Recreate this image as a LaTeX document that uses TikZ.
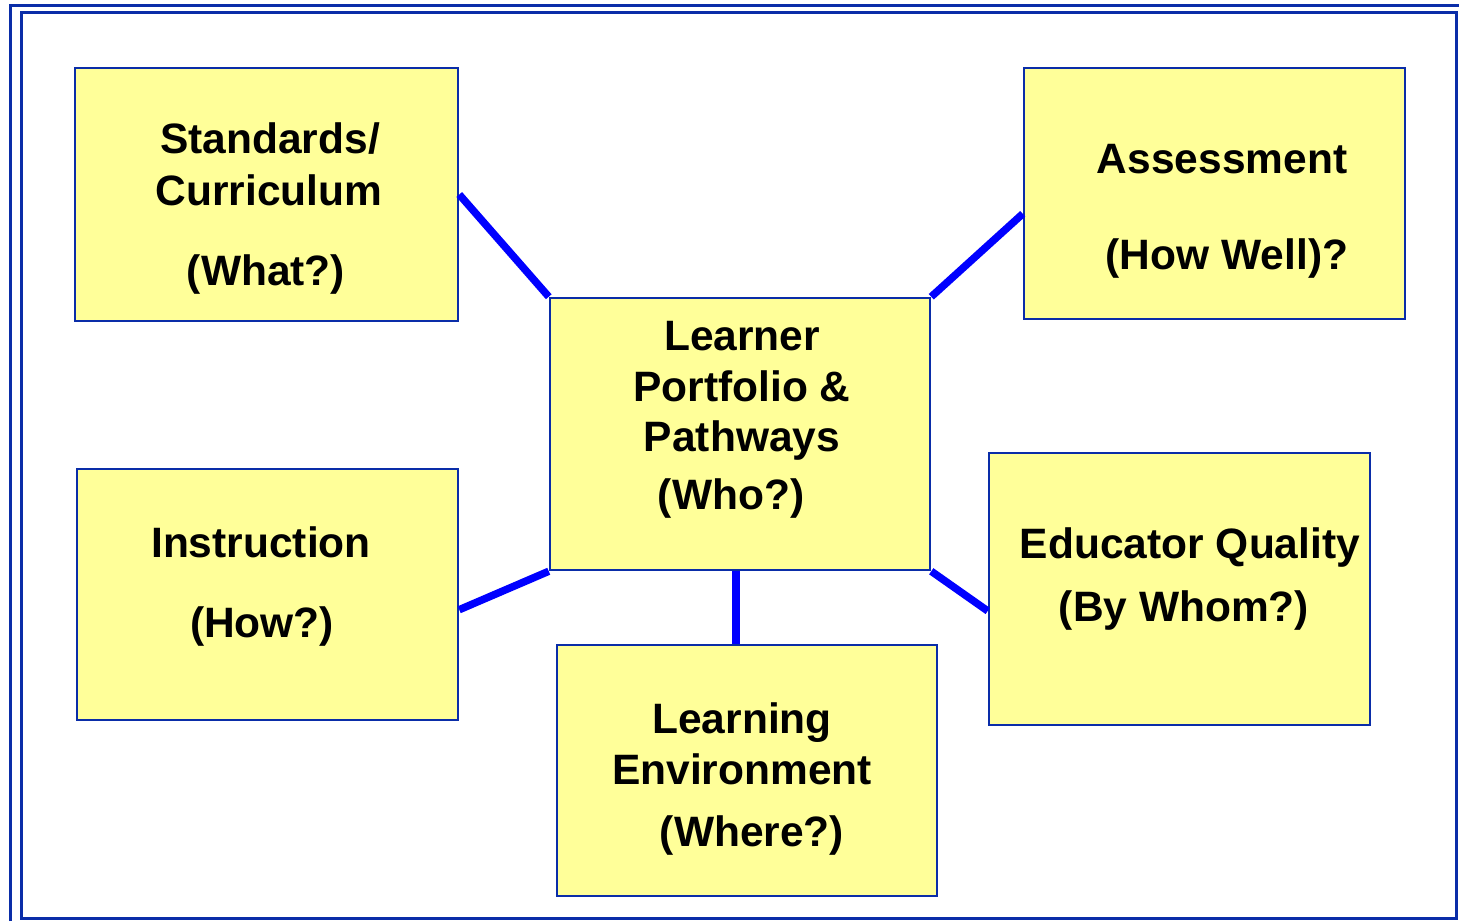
\documentclass[tikz,border=0pt]{standalone}
\usepackage{fontspec}
\setmainfont{Liberation Sans}
\usetikzlibrary{calc}
\definecolor{boxfill}{HTML}{FFFF99}
\definecolor{boxline}{HTML}{0A2DA8}
\definecolor{conn}{HTML}{0000FF}
\begin{document}
\begin{tikzpicture}[x=1pt,y=-1pt,
  box/.style={draw=boxline,line width=2.5pt,fill=boxfill,minimum width=#1,inner sep=0pt,rectangle},
  lbl/.style={anchor=base,font=\fontsize{42.5}{50}\selectfont\bfseries,inner sep=0pt,text=black},
  link/.style={draw=conn,line width=7.5pt}]
\useasboundingbox (0,0) rectangle (1459,921);
\fill[white] (0,0) rectangle (1459,921);
% frames
\draw[boxline,line width=3pt] (10.5,921) -- (10.5,5) -- (1459,5);
\draw[boxline,line width=3pt] (21.5,12) rectangle (1456.5,918);
% boxes
\node[box=383pt,minimum height=253pt] (std) at (266.5,194.5) {};
\node[box=381pt,minimum height=251pt] (ass) at (1214.5,193.5) {};
\node[box=380pt,minimum height=272pt] (ctr) at (740,434) {};
\node[box=381pt,minimum height=251pt] (ins) at (267.5,594.5) {};
\node[box=381pt,minimum height=272pt] (edu) at (1179.5,589) {};
\node[box=380pt,minimum height=251pt] (env) at (747,770.5) {};
% connectors
\draw[link] (std.east) -- (ctr.north west);
\draw[link] (ctr.north east) -- ($(ass.north west)!0.58!(ass.south west)$);
\draw[link] (ctr.south west) -- ($(ins.north east)!0.56!(ins.south east)$);
\coordinate (cb) at ($(ctr.south west)!0.49!(ctr.south east)$);
\draw[link] (cb) -- (cb |- env.north);
\draw[link] (ctr.south east) -- ($(edu.north west)!0.58!(edu.south west)$);
% labels
\node[lbl] (t1) at (270,153) {Standards/};
\node[lbl] (t2) at (269,205) {Curriculum};
\node[lbl] (t3) at (266,285) {(What?)};
\node[lbl] (t4) at (1222,173) {Assessment};
\node[lbl] (t5) at (1227,269) {(How Well)?};
\node[lbl] (t6) at (742,350) {Learner};
\node[lbl] (t7) at (742,401) {Portfolio \&};
\node[lbl] (t8) at (742,451) {Pathways};
\node[lbl] (t9) at (731,509) {(Who?)};
\node[lbl] (t10) at (261,557) {Instruction};
\node[lbl] (t11) at (262,637) {(How?)};
\node[lbl] (t12) at (1190,558) {Educator Quality};
\node[lbl] (t13) at (1184,621) {(By Whom?)};
\node[lbl] (t14) at (742,733) {Learning};
\node[lbl] (t15) at (742,784) {Environment};
\node[lbl] (t16) at (752,846) {(Where?)};
\end{tikzpicture}
\end{document}
